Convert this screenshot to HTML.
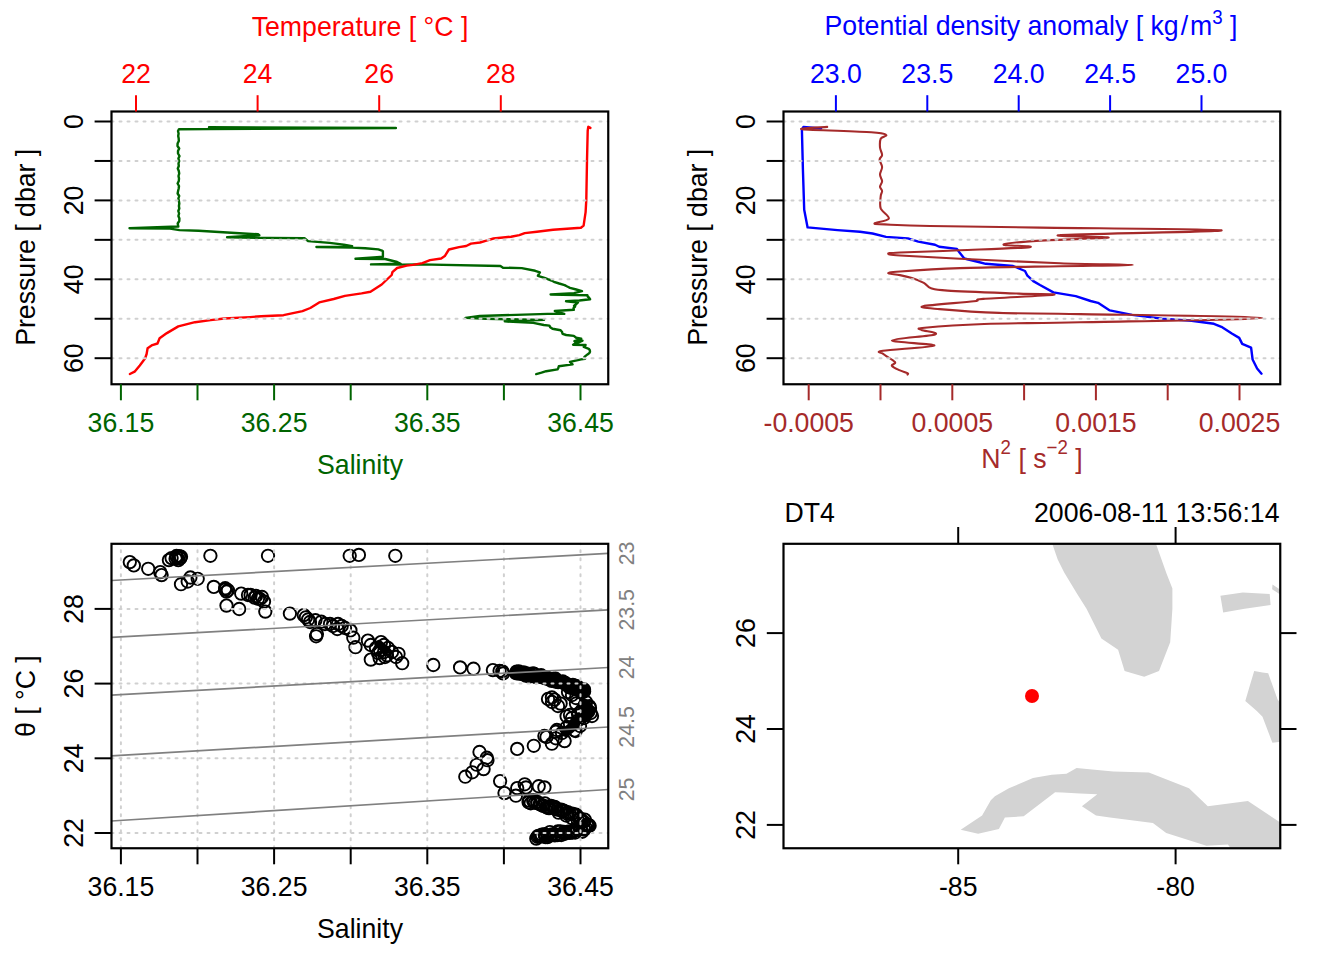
<!DOCTYPE html>
<html><head><meta charset="utf-8"><style>
html,body{margin:0;padding:0;background:#fff;}
svg{display:block;}
text{font-family:"Liberation Sans", sans-serif;}
</style></head><body>
<svg width="1344" height="960" viewBox="0 0 1344 960">
<rect width="1344" height="960" fill="#fff"/>
<polyline points="209.0,127.3 395.9,128.0 209.0,129.0 179.0,129.2 178.0,131.0 178.6,133.5 178.2,136.0 178.7,138.5 178.8,141.0 177.6,143.5 177.5,146.0 179.2,148.5 178.0,151.0 178.0,153.5 179.5,156.0 178.4,158.5 179.2,161.0 178.5,163.5 178.8,166.0 177.8,168.5 178.8,171.0 179.2,173.5 178.5,176.0 179.0,178.5 178.8,181.0 177.6,183.5 179.0,186.0 178.7,188.5 178.1,191.0 177.6,193.5 179.2,196.0 178.4,198.5 178.9,201.0 179.3,203.5 178.9,206.0 179.3,208.5 178.3,211.0 179.1,213.5 178.4,216.0 179.4,218.5 179.3,221.0 177.7,223.5 178.3,226.5 171.2,226.8 129.5,228.3 170.0,228.6 179.5,230.1 198.6,230.7 227.1,232.5 258.1,234.3 259.3,235.2 227.1,237.3 270.0,237.9 304.5,238.3 308.1,241.1 329.5,242.9 343.8,244.6 352.1,246.2 316.4,247.0 352.0,247.6 365.2,248.2 378.3,249.4 381.9,250.6 382.9,251.3 382.9,256.7 377.0,257.1 355.5,258.8 385.2,259.0 397.1,262.0 400.7,263.8 371.0,264.4 401.9,264.6 420.0,264.4 500.4,266.0 503.0,267.7 521.8,268.1 535.2,270.8 539.9,272.4 538.8,274.1 537.9,275.8 544.5,277.8 547.7,279.1 551.5,280.5 553.9,281.8 559.2,283.5 564.6,285.1 567.3,286.5 570.0,287.8 576.2,289.5 582.0,291.2 574.0,293.2 550.6,294.5 587.4,295.2 587.7,296.5 589.2,297.9 590.1,299.2 579.4,300.5 566.0,301.2 578.0,302.5 576.2,304.2 574.0,305.9 575.0,305.0 575.1,306.6 573.5,308.2 573.8,309.8 554.8,311.0 559.2,312.4 564.3,313.9 547.6,313.9 479.8,316.0 465.5,317.9 485.7,318.7 544.0,319.9 504.8,321.4 533.3,322.9 543.8,325.0 549.4,325.6 550.2,327.2 552.5,328.8 560.6,330.3 562.1,332.0 562.5,333.8 566.2,335.0 573.8,335.9 576.2,337.8 581.2,338.8 574.4,341.2 582.5,340.6 579.7,342.0 575.4,343.3 573.1,344.7 585.6,345.0 583.8,346.9 588.8,348.8 589.8,350.2 590.0,351.7 589.4,353.1 587.5,354.4 584.4,356.9 585.0,358.8 581.2,359.4 570.0,361.9 572.5,364.4 558.8,366.2 558.4,367.8 557.5,369.4 546.2,371.2 541.5,372.7 536.2,374.1" fill="none" stroke="#006400" stroke-width="2.4" stroke-linejoin="round" stroke-linecap="round" />
<polyline points="590.4,127.9 588.3,126.8 587.7,130.8 587.0,160.6 586.3,199.9 585.6,212.1 583.6,225.6 580.9,227.7 553.1,229.7 536.9,231.7 524.7,233.1 519.3,235.1 511.1,236.7 493.5,238.5 486.4,240.6 480.0,242.5 471.0,243.6 466.2,246.0 459.0,247.1 448.9,249.5 444.8,256.1 441.2,258.5 430.0,260.1 422.4,263.1 412.9,264.9 406.7,265.6 397.1,268.0 392.4,272.1 391.7,275.0 381.7,284.5 370.5,291.8 361.6,293.4 344.9,295.9 333.7,299.0 319.2,302.4 310.3,308.0 302.5,311.1 283.5,315.2 261.2,316.3 250.0,317.1 224.2,318.5 210.6,320.1 195.0,322.2 178.3,326.4 166.9,333.1 159.6,338.3 157.5,343.5 152.3,345.1 147.6,348.2 146.6,354.0 145.0,358.6 139.8,365.4 134.6,371.7 129.9,374.0" fill="none" stroke="#ff0000" stroke-width="2.4" stroke-linejoin="round" stroke-linecap="round" />
<line x1="111.5" y1="121.5" x2="608.25" y2="121.5" stroke="#d0d0d0" stroke-width="2.0" stroke-dasharray="2 6" stroke-linecap="round"/>
<line x1="111.5" y1="160.95" x2="608.25" y2="160.95" stroke="#d0d0d0" stroke-width="2.0" stroke-dasharray="2 6" stroke-linecap="round"/>
<line x1="111.5" y1="200.39999999999998" x2="608.25" y2="200.39999999999998" stroke="#d0d0d0" stroke-width="2.0" stroke-dasharray="2 6" stroke-linecap="round"/>
<line x1="111.5" y1="239.85" x2="608.25" y2="239.85" stroke="#d0d0d0" stroke-width="2.0" stroke-dasharray="2 6" stroke-linecap="round"/>
<line x1="111.5" y1="279.29999999999995" x2="608.25" y2="279.29999999999995" stroke="#d0d0d0" stroke-width="2.0" stroke-dasharray="2 6" stroke-linecap="round"/>
<line x1="111.5" y1="318.75" x2="608.25" y2="318.75" stroke="#d0d0d0" stroke-width="2.0" stroke-dasharray="2 6" stroke-linecap="round"/>
<line x1="111.5" y1="358.2" x2="608.25" y2="358.2" stroke="#d0d0d0" stroke-width="2.0" stroke-dasharray="2 6" stroke-linecap="round"/>
<rect x="111.5" y="111.5" width="496.75" height="272.75" fill="none" stroke="#000" stroke-width="2.2"/>
<line x1="94.6" y1="121.5" x2="111.5" y2="121.5" stroke="#000" stroke-width="2.0"/>
<line x1="94.6" y1="160.95" x2="111.5" y2="160.95" stroke="#000" stroke-width="2.0"/>
<line x1="94.6" y1="200.39999999999998" x2="111.5" y2="200.39999999999998" stroke="#000" stroke-width="2.0"/>
<line x1="94.6" y1="239.85" x2="111.5" y2="239.85" stroke="#000" stroke-width="2.0"/>
<line x1="94.6" y1="279.29999999999995" x2="111.5" y2="279.29999999999995" stroke="#000" stroke-width="2.0"/>
<line x1="94.6" y1="318.75" x2="111.5" y2="318.75" stroke="#000" stroke-width="2.0"/>
<line x1="94.6" y1="358.2" x2="111.5" y2="358.2" stroke="#000" stroke-width="2.0"/>
<text x="0" y="0" fill="#000" font-size="26.67" text-anchor="middle" transform="translate(82.5 121.5) rotate(-90) scale(1 1.05)" >0</text>
<text x="0" y="0" fill="#000" font-size="26.67" text-anchor="middle" transform="translate(82.5 200.39999999999998) rotate(-90) scale(1 1.05)" >20</text>
<text x="0" y="0" fill="#000" font-size="26.67" text-anchor="middle" transform="translate(82.5 279.29999999999995) rotate(-90) scale(1 1.05)" >40</text>
<text x="0" y="0" fill="#000" font-size="26.67" text-anchor="middle" transform="translate(82.5 358.2) rotate(-90) scale(1 1.05)" >60</text>
<text x="0" y="0" fill="#000" font-size="26.67" text-anchor="middle" transform="translate(35.2 247.3) rotate(-90) scale(1 1.05)" >Pressure [ dbar ]</text>
<line x1="120.9" y1="384.25" x2="120.9" y2="400.3" stroke="#006400" stroke-width="2.0"/>
<line x1="197.49999999999565" y1="384.25" x2="197.49999999999565" y2="400.3" stroke="#006400" stroke-width="2.0"/>
<line x1="274.1000000000022" y1="384.25" x2="274.1000000000022" y2="400.3" stroke="#006400" stroke-width="2.0"/>
<line x1="350.6999999999978" y1="384.25" x2="350.6999999999978" y2="400.3" stroke="#006400" stroke-width="2.0"/>
<line x1="427.3000000000044" y1="384.25" x2="427.3000000000044" y2="400.3" stroke="#006400" stroke-width="2.0"/>
<line x1="503.9" y1="384.25" x2="503.9" y2="400.3" stroke="#006400" stroke-width="2.0"/>
<line x1="580.4999999999956" y1="384.25" x2="580.4999999999956" y2="400.3" stroke="#006400" stroke-width="2.0"/>
<text x="0" y="0" fill="#006400" font-size="26.67" text-anchor="middle" transform="translate(120.9 432.0) scale(1 1.05)" >36.15</text>
<text x="0" y="0" fill="#006400" font-size="26.67" text-anchor="middle" transform="translate(274.1000000000022 432.0) scale(1 1.05)" >36.25</text>
<text x="0" y="0" fill="#006400" font-size="26.67" text-anchor="middle" transform="translate(427.3000000000044 432.0) scale(1 1.05)" >36.35</text>
<text x="0" y="0" fill="#006400" font-size="26.67" text-anchor="middle" transform="translate(580.5000000000065 432.0) scale(1 1.05)" >36.45</text>
<text x="0" y="0" fill="#006400" font-size="26.67" text-anchor="middle" transform="translate(360 473.6) scale(1 1.05)" >Salinity</text>
<line x1="136.0" y1="95.2" x2="136.0" y2="111.5" stroke="#ff0000" stroke-width="2.0"/>
<text x="0" y="0" fill="#ff0000" font-size="26.67" text-anchor="middle" transform="translate(136.0 82.9) scale(1 1.05)" >22</text>
<line x1="257.6" y1="95.2" x2="257.6" y2="111.5" stroke="#ff0000" stroke-width="2.0"/>
<text x="0" y="0" fill="#ff0000" font-size="26.67" text-anchor="middle" transform="translate(257.6 82.9) scale(1 1.05)" >24</text>
<line x1="379.2" y1="95.2" x2="379.2" y2="111.5" stroke="#ff0000" stroke-width="2.0"/>
<text x="0" y="0" fill="#ff0000" font-size="26.67" text-anchor="middle" transform="translate(379.2 82.9) scale(1 1.05)" >26</text>
<line x1="500.79999999999995" y1="95.2" x2="500.79999999999995" y2="111.5" stroke="#ff0000" stroke-width="2.0"/>
<text x="0" y="0" fill="#ff0000" font-size="26.67" text-anchor="middle" transform="translate(500.79999999999995 82.9) scale(1 1.05)" >28</text>
<text x="0" y="0" fill="#ff0000" font-size="26.67" text-anchor="middle" transform="translate(360 35.5) scale(1 1.05)" >Temperature [ °C ]</text>
<polyline points="821.1,128.5 803.5,126.9 801.9,129.9 802.9,169.2 804.2,209.8 807.6,227.4 837.4,230.1 860.0,231.7 872.5,233.5 886.0,236.9 907.9,238.4 918.3,241.6 935.0,244.7 939.2,246.8 956.9,248.9 959.5,252.5 964.3,258.5 978.6,262.0 985.7,263.8 1013.1,266.0 1025.0,271.0 1027.4,275.7 1033.3,281.1 1040.0,285.0 1053.4,292.4 1075.7,296.1 1090.6,301.0 1098.0,302.8 1109.8,310.4 1132.1,314.9 1161.8,318.6 1191.6,320.8 1213.9,323.8 1221.4,326.8 1231.8,333.5 1239.2,337.9 1242.2,343.9 1251.1,347.6 1252.6,359.5 1257.1,368.5 1261.5,373.7" fill="none" stroke="#0000ff" stroke-width="2.4" stroke-linejoin="round" stroke-linecap="round" />
<path d="M827.2,126.9 C823.0,127.3 794.9,128.3 802.2,129.2 C809.5,130.1 857.2,131.3 871.2,132.3 C885.2,133.3 884.5,133.9 886.1,135.0 C887.7,136.1 881.7,136.6 880.7,138.7 C879.7,140.8 879.8,144.8 880.0,147.5 C880.2,150.2 882.2,153.0 882.1,155.0 C882.0,157.0 879.6,157.7 879.6,159.7 C879.6,161.7 882.0,164.5 882.1,167.0 C882.2,169.5 880.0,172.2 880.0,174.6 C880.0,177.0 882.1,179.3 882.1,181.3 C882.1,183.3 880.0,185.2 880.0,186.8 C880.0,188.4 882.0,189.4 882.1,191.0 C882.2,192.6 880.9,193.3 880.7,196.2 C880.5,199.1 879.4,204.7 880.7,208.4 C882.1,212.1 889.8,216.1 888.8,218.6 C887.8,221.1 875.3,222.3 874.6,223.3 C873.9,224.3 875.6,224.0 884.8,224.4 C894.0,224.8 904.1,225.5 930.0,226.0 C955.9,226.5 991.4,226.9 1040.0,227.6 C1088.6,228.3 1218.0,229.1 1221.5,230.3 C1225.0,231.6 1079.6,233.9 1060.8,235.1 C1042.0,236.3 1112.0,236.7 1108.5,237.6 C1105.0,238.5 1057.5,239.4 1040.0,240.6 C1022.5,241.8 1005.3,243.4 1003.6,244.5 C1001.9,245.6 1037.1,246.1 1029.8,247.1 C1022.5,248.1 981.6,249.4 960.0,250.3 C938.4,251.2 912.0,251.9 900.0,252.5 C888.0,253.1 888.1,253.2 888.1,253.8 C888.1,254.2 888.0,254.7 900.0,255.5 C912.0,256.3 933.3,257.5 960.0,258.8 C986.7,260.0 1031.2,262.2 1060.0,263.2 C1088.8,264.2 1133.0,264.4 1133.0,264.9 C1133.0,265.4 1088.8,265.7 1060.0,266.2 C1031.2,266.7 986.7,267.2 960.0,268.1 C933.3,269.0 912.0,270.6 900.0,271.5 C888.0,272.4 888.1,272.7 888.1,273.3 C888.1,273.9 896.0,274.3 900.0,275.1 C904.0,275.9 907.9,276.8 911.9,278.1 C915.9,279.4 920.6,281.2 923.8,282.9 C927.0,284.6 927.0,286.9 931.0,288.2 C935.0,289.5 932.9,289.7 947.6,290.6 C962.3,291.5 1001.3,292.9 1019.0,293.6 C1036.7,294.3 1059.5,293.9 1053.6,294.8 C1047.6,295.7 996.6,297.8 983.3,298.9 C970.0,300.0 983.8,300.1 973.8,301.3 C963.8,302.5 928.9,304.9 923.2,306.2 C917.5,307.5 926.9,308.0 939.5,309.1 C952.1,310.2 975.6,312.1 999.0,312.9 C1022.4,313.7 1036.1,313.3 1080.0,314.1 C1123.9,314.9 1262.3,316.5 1262.3,317.9 C1262.3,319.3 1126.3,321.3 1080.0,322.3 C1033.7,323.3 1010.1,323.1 984.2,324.0 C958.3,324.9 935.0,326.7 924.6,327.7 C914.2,328.7 920.0,328.9 921.7,330.0 C923.5,331.1 940.1,332.7 935.1,334.4 C930.1,336.1 892.0,338.5 891.9,340.4 C891.8,342.3 935.8,343.9 934.3,345.6 C932.8,347.3 891.5,349.4 883.0,350.8 C874.5,352.2 881.0,351.9 883.0,353.8 C885.0,355.7 893.4,360.0 894.9,362.0 C896.4,364.0 891.2,364.3 891.9,365.7 C892.6,367.1 896.7,368.9 899.3,370.1 C901.9,371.3 906.1,372.4 907.5,373.1 C908.9,373.9 907.5,374.4 907.5,374.6" fill="none" stroke="#a52a2a" stroke-width="2.1" stroke-linejoin="round" stroke-linecap="round"/>
<line x1="783.5" y1="121.5" x2="1280.25" y2="121.5" stroke="#d0d0d0" stroke-width="2.0" stroke-dasharray="2 6" stroke-linecap="round"/>
<line x1="783.5" y1="160.95" x2="1280.25" y2="160.95" stroke="#d0d0d0" stroke-width="2.0" stroke-dasharray="2 6" stroke-linecap="round"/>
<line x1="783.5" y1="200.39999999999998" x2="1280.25" y2="200.39999999999998" stroke="#d0d0d0" stroke-width="2.0" stroke-dasharray="2 6" stroke-linecap="round"/>
<line x1="783.5" y1="239.85" x2="1280.25" y2="239.85" stroke="#d0d0d0" stroke-width="2.0" stroke-dasharray="2 6" stroke-linecap="round"/>
<line x1="783.5" y1="279.29999999999995" x2="1280.25" y2="279.29999999999995" stroke="#d0d0d0" stroke-width="2.0" stroke-dasharray="2 6" stroke-linecap="round"/>
<line x1="783.5" y1="318.75" x2="1280.25" y2="318.75" stroke="#d0d0d0" stroke-width="2.0" stroke-dasharray="2 6" stroke-linecap="round"/>
<line x1="783.5" y1="358.2" x2="1280.25" y2="358.2" stroke="#d0d0d0" stroke-width="2.0" stroke-dasharray="2 6" stroke-linecap="round"/>
<rect x="783.5" y="111.5" width="496.75" height="272.75" fill="none" stroke="#000" stroke-width="2.2"/>
<line x1="766.6" y1="121.5" x2="783.5" y2="121.5" stroke="#000" stroke-width="2.0"/>
<line x1="766.6" y1="160.95" x2="783.5" y2="160.95" stroke="#000" stroke-width="2.0"/>
<line x1="766.6" y1="200.39999999999998" x2="783.5" y2="200.39999999999998" stroke="#000" stroke-width="2.0"/>
<line x1="766.6" y1="239.85" x2="783.5" y2="239.85" stroke="#000" stroke-width="2.0"/>
<line x1="766.6" y1="279.29999999999995" x2="783.5" y2="279.29999999999995" stroke="#000" stroke-width="2.0"/>
<line x1="766.6" y1="318.75" x2="783.5" y2="318.75" stroke="#000" stroke-width="2.0"/>
<line x1="766.6" y1="358.2" x2="783.5" y2="358.2" stroke="#000" stroke-width="2.0"/>
<text x="0" y="0" fill="#000" font-size="26.67" text-anchor="middle" transform="translate(754.5 121.5) rotate(-90) scale(1 1.05)" >0</text>
<text x="0" y="0" fill="#000" font-size="26.67" text-anchor="middle" transform="translate(754.5 200.39999999999998) rotate(-90) scale(1 1.05)" >20</text>
<text x="0" y="0" fill="#000" font-size="26.67" text-anchor="middle" transform="translate(754.5 279.29999999999995) rotate(-90) scale(1 1.05)" >40</text>
<text x="0" y="0" fill="#000" font-size="26.67" text-anchor="middle" transform="translate(754.5 358.2) rotate(-90) scale(1 1.05)" >60</text>
<text x="0" y="0" fill="#000" font-size="26.67" text-anchor="middle" transform="translate(707.2 247.3) rotate(-90) scale(1 1.05)" >Pressure [ dbar ]</text>
<line x1="808.7" y1="384.25" x2="808.7" y2="400.3" stroke="#a52a2a" stroke-width="2.0"/>
<line x1="880.5" y1="384.25" x2="880.5" y2="400.3" stroke="#a52a2a" stroke-width="2.0"/>
<line x1="952.3000000000001" y1="384.25" x2="952.3000000000001" y2="400.3" stroke="#a52a2a" stroke-width="2.0"/>
<line x1="1024.1" y1="384.25" x2="1024.1" y2="400.3" stroke="#a52a2a" stroke-width="2.0"/>
<line x1="1095.9" y1="384.25" x2="1095.9" y2="400.3" stroke="#a52a2a" stroke-width="2.0"/>
<line x1="1167.7" y1="384.25" x2="1167.7" y2="400.3" stroke="#a52a2a" stroke-width="2.0"/>
<line x1="1239.5" y1="384.25" x2="1239.5" y2="400.3" stroke="#a52a2a" stroke-width="2.0"/>
<text x="0" y="0" fill="#a52a2a" font-size="26.67" text-anchor="middle" transform="translate(808.7 432.0) scale(1 1.05)" >-0.0005</text>
<text x="0" y="0" fill="#a52a2a" font-size="26.67" text-anchor="middle" transform="translate(952.3000000000001 432.0) scale(1 1.05)" >0.0005</text>
<text x="0" y="0" fill="#a52a2a" font-size="26.67" text-anchor="middle" transform="translate(1095.9 432.0) scale(1 1.05)" >0.0015</text>
<text x="0" y="0" fill="#a52a2a" font-size="26.67" text-anchor="middle" transform="translate(1239.5 432.0) scale(1 1.05)" >0.0025</text>
<text x="0" y="0" transform="translate(1032 467.8) scale(1 1.05)" fill="#a52a2a" font-size="26.67" text-anchor="middle">N<tspan font-size="18.7" dy="-13">2</tspan><tspan dy="13"> [ s</tspan><tspan font-size="18.7" dy="-13">−2</tspan><tspan dy="13"> ]</tspan></text>
<line x1="835.9" y1="95.2" x2="835.9" y2="111.5" stroke="#0000ff" stroke-width="2.0"/>
<text x="0" y="0" fill="#0000ff" font-size="26.67" text-anchor="middle" transform="translate(835.9 82.9) scale(1 1.05)" >23.0</text>
<line x1="927.3" y1="95.2" x2="927.3" y2="111.5" stroke="#0000ff" stroke-width="2.0"/>
<text x="0" y="0" fill="#0000ff" font-size="26.67" text-anchor="middle" transform="translate(927.3 82.9) scale(1 1.05)" >23.5</text>
<line x1="1018.7" y1="95.2" x2="1018.7" y2="111.5" stroke="#0000ff" stroke-width="2.0"/>
<text x="0" y="0" fill="#0000ff" font-size="26.67" text-anchor="middle" transform="translate(1018.7 82.9) scale(1 1.05)" >24.0</text>
<line x1="1110.1" y1="95.2" x2="1110.1" y2="111.5" stroke="#0000ff" stroke-width="2.0"/>
<text x="0" y="0" fill="#0000ff" font-size="26.67" text-anchor="middle" transform="translate(1110.1 82.9) scale(1 1.05)" >24.5</text>
<line x1="1201.5" y1="95.2" x2="1201.5" y2="111.5" stroke="#0000ff" stroke-width="2.0"/>
<text x="0" y="0" fill="#0000ff" font-size="26.67" text-anchor="middle" transform="translate(1201.5 82.9) scale(1 1.05)" >25.0</text>
<text x="0" y="0" transform="translate(1031 35.4) scale(1 1.05)" fill="#0000ff" font-size="26.67" text-anchor="middle">Potential density anomaly [ kg<tspan dx="2">/</tspan><tspan dx="2">m</tspan><tspan font-size="18.7" dy="-11">3</tspan><tspan dy="11"> ]</tspan></text>
<polyline points="515.0,673.5 530.0,675.5 550.0,679.5 565.0,683.5 578.0,688.0 584.0,690.5" fill="none" stroke="#000" stroke-width="12.5" stroke-linejoin="round" stroke-linecap="round" />
<polyline points="568.0,689.0 583.0,694.0" fill="none" stroke="#000" stroke-width="10" stroke-linejoin="round" stroke-linecap="round" />
<polyline points="584.0,705.0 589.0,711.0 585.0,716.0" fill="none" stroke="#000" stroke-width="13" stroke-linejoin="round" stroke-linecap="round" />
<polyline points="580.0,717.0 572.0,727.0 566.0,732.0" fill="none" stroke="#000" stroke-width="10" stroke-linejoin="round" stroke-linecap="round" />
<polyline points="379.0,644.0 386.0,650.0" fill="none" stroke="#000" stroke-width="8" stroke-linejoin="round" stroke-linecap="round" />
<g fill="none" stroke="#000" stroke-width="1.9">
<circle cx="129.8" cy="562.1" r="6.2"/>
<circle cx="133.8" cy="565.4" r="6.2"/>
<circle cx="148.2" cy="568.8" r="6.2"/>
<circle cx="160.2" cy="572.1" r="6.2"/>
<circle cx="161.6" cy="575.1" r="6.2"/>
<circle cx="168.9" cy="560.1" r="6.2"/>
<circle cx="171.6" cy="558.1" r="6.2"/>
<circle cx="175.6" cy="558.7" r="6.2"/>
<circle cx="177.0" cy="557.1" r="6.2"/>
<circle cx="179.0" cy="556.1" r="6.2"/>
<circle cx="180.3" cy="558.1" r="6.2"/>
<circle cx="181.0" cy="556.7" r="6.2"/>
<circle cx="178.3" cy="560.1" r="6.2"/>
<circle cx="176.5" cy="556.0" r="6.2"/>
<circle cx="210.4" cy="555.8" r="6.2"/>
<circle cx="268.0" cy="555.8" r="6.2"/>
<circle cx="181.0" cy="584.2" r="6.2"/>
<circle cx="187.7" cy="581.5" r="6.2"/>
<circle cx="190.4" cy="577.5" r="6.2"/>
<circle cx="197.7" cy="578.8" r="6.2"/>
<circle cx="213.8" cy="586.9" r="6.2"/>
<circle cx="225.2" cy="589.6" r="6.2"/>
<circle cx="226.5" cy="591.6" r="6.2"/>
<circle cx="227.9" cy="590.2" r="6.2"/>
<circle cx="225.2" cy="588.2" r="6.2"/>
<circle cx="226.5" cy="605.6" r="6.2"/>
<circle cx="239.2" cy="609.0" r="6.2"/>
<circle cx="241.2" cy="593.6" r="6.2"/>
<circle cx="250.6" cy="594.9" r="6.2"/>
<circle cx="254.6" cy="597.6" r="6.2"/>
<circle cx="260.0" cy="599.0" r="6.2"/>
<circle cx="256.0" cy="596.0" r="6.2"/>
<circle cx="258.0" cy="598.5" r="6.2"/>
<circle cx="262.0" cy="597.0" r="6.2"/>
<circle cx="248.0" cy="595.0" r="6.2"/>
<circle cx="264.0" cy="601.6" r="6.2"/>
<circle cx="265.3" cy="611.6" r="6.2"/>
<circle cx="349.7" cy="555.8" r="6.2"/>
<circle cx="358.9" cy="554.9" r="6.2"/>
<circle cx="395.3" cy="555.8" r="6.2"/>
<circle cx="289.9" cy="613.6" r="6.2"/>
<circle cx="303.8" cy="615.1" r="6.2"/>
<circle cx="305.9" cy="617.3" r="6.2"/>
<circle cx="308.1" cy="619.5" r="6.2"/>
<circle cx="315.4" cy="620.2" r="6.2"/>
<circle cx="321.3" cy="621.7" r="6.2"/>
<circle cx="330.0" cy="623.9" r="6.2"/>
<circle cx="332.9" cy="626.0" r="6.2"/>
<circle cx="337.3" cy="629.0" r="6.2"/>
<circle cx="316.9" cy="634.1" r="6.2"/>
<circle cx="316.1" cy="636.3" r="6.2"/>
<circle cx="341.7" cy="626.0" r="6.2"/>
<circle cx="350.4" cy="630.4" r="6.2"/>
<circle cx="353.3" cy="637.7" r="6.2"/>
<circle cx="355.5" cy="647.2" r="6.2"/>
<circle cx="367.9" cy="640.6" r="6.2"/>
<circle cx="370.8" cy="645.0" r="6.2"/>
<circle cx="381.0" cy="642.1" r="6.2"/>
<circle cx="384.0" cy="645.0" r="6.2"/>
<circle cx="370.8" cy="659.6" r="6.2"/>
<circle cx="379.6" cy="658.1" r="6.2"/>
<circle cx="386.9" cy="655.2" r="6.2"/>
<circle cx="398.5" cy="653.8" r="6.2"/>
<circle cx="402.2" cy="663.2" r="6.2"/>
<circle cx="376.0" cy="648.0" r="6.2"/>
<circle cx="380.0" cy="650.0" r="6.2"/>
<circle cx="384.0" cy="652.0" r="6.2"/>
<circle cx="388.0" cy="648.0" r="6.2"/>
<circle cx="378.0" cy="653.0" r="6.2"/>
<circle cx="392.0" cy="652.0" r="6.2"/>
<circle cx="396.0" cy="657.0" r="6.2"/>
<circle cx="385.0" cy="657.0" r="6.2"/>
<circle cx="310.0" cy="622.0" r="6.2"/>
<circle cx="325.0" cy="624.0" r="6.2"/>
<circle cx="345.0" cy="628.0" r="6.2"/>
<circle cx="338.0" cy="624.0" r="6.2"/>
<circle cx="433.3" cy="665.0" r="6.2"/>
<circle cx="460.1" cy="667.4" r="6.2"/>
<circle cx="473.5" cy="668.7" r="6.2"/>
<circle cx="492.9" cy="670.1" r="6.2"/>
<circle cx="499.6" cy="670.8" r="6.2"/>
<circle cx="502.3" cy="671.4" r="6.2"/>
<circle cx="503.0" cy="673.4" r="6.2"/>
<circle cx="517.0" cy="673.4" r="6.2"/>
<circle cx="521.1" cy="672.8" r="6.2"/>
<circle cx="584.0" cy="689.5" r="6.2"/>
<circle cx="551.9" cy="697.5" r="6.2"/>
<circle cx="554.5" cy="699.6" r="6.2"/>
<circle cx="560.6" cy="703.6" r="6.2"/>
<circle cx="576.0" cy="703.6" r="6.2"/>
<circle cx="589.4" cy="706.2" r="6.2"/>
<circle cx="590.7" cy="713.0" r="6.2"/>
<circle cx="566.6" cy="716.3" r="6.2"/>
<circle cx="577.3" cy="721.0" r="6.2"/>
<circle cx="574.6" cy="730.4" r="6.2"/>
<circle cx="555.9" cy="731.7" r="6.2"/>
<circle cx="546.5" cy="737.0" r="6.2"/>
<circle cx="551.9" cy="743.7" r="6.2"/>
<circle cx="564.6" cy="741.1" r="6.2"/>
<circle cx="533.8" cy="745.8" r="6.2"/>
<circle cx="586.0" cy="702.0" r="6.2"/>
<circle cx="590.0" cy="708.0" r="6.2"/>
<circle cx="592.0" cy="716.0" r="6.2"/>
<circle cx="588.0" cy="712.0" r="6.2"/>
<circle cx="582.0" cy="710.0" r="6.2"/>
<circle cx="584.0" cy="718.0" r="6.2"/>
<circle cx="578.0" cy="714.0" r="6.2"/>
<circle cx="572.0" cy="718.0" r="6.2"/>
<circle cx="570.0" cy="724.0" r="6.2"/>
<circle cx="580.0" cy="726.0" r="6.2"/>
<circle cx="566.0" cy="728.0" r="6.2"/>
<circle cx="562.0" cy="733.0" r="6.2"/>
<circle cx="568.0" cy="692.0" r="6.2"/>
<circle cx="572.0" cy="695.0" r="6.2"/>
<circle cx="576.0" cy="698.0" r="6.2"/>
<circle cx="544.4" cy="736.0" r="6.2"/>
<circle cx="556.9" cy="730.0" r="6.2"/>
<circle cx="575.6" cy="731.0" r="6.2"/>
<circle cx="555.8" cy="738.3" r="6.2"/>
<circle cx="548.0" cy="699.0" r="6.2"/>
<circle cx="552.0" cy="702.0" r="6.2"/>
<circle cx="558.0" cy="706.0" r="6.2"/>
<circle cx="570.0" cy="715.0" r="6.2"/>
<circle cx="479.5" cy="752.0" r="6.2"/>
<circle cx="486.8" cy="757.7" r="6.2"/>
<circle cx="487.4" cy="760.2" r="6.2"/>
<circle cx="476.7" cy="764.7" r="6.2"/>
<circle cx="483.6" cy="769.1" r="6.2"/>
<circle cx="472.3" cy="772.3" r="6.2"/>
<circle cx="465.3" cy="776.7" r="6.2"/>
<circle cx="500.1" cy="781.1" r="6.2"/>
<circle cx="504.5" cy="793.1" r="6.2"/>
<circle cx="517.2" cy="748.9" r="6.2"/>
<circle cx="517.2" cy="788.1" r="6.2"/>
<circle cx="515.9" cy="795.7" r="6.2"/>
<circle cx="524.7" cy="784.3" r="6.2"/>
<circle cx="526.0" cy="787.4" r="6.2"/>
<circle cx="538.7" cy="786.2" r="6.2"/>
<circle cx="544.4" cy="787.4" r="6.2"/>
<circle cx="537.4" cy="836.8" r="6.2"/>
<circle cx="541.2" cy="836.1" r="6.2"/>
<circle cx="545.0" cy="835.5" r="6.2"/>
<circle cx="516.6" cy="671.6" r="6.2"/>
<circle cx="518.8" cy="671.5" r="6.2"/>
<circle cx="520.1" cy="672.9" r="6.2"/>
<circle cx="520.6" cy="673.7" r="6.2"/>
<circle cx="522.1" cy="673.6" r="6.2"/>
<circle cx="523.6" cy="672.4" r="6.2"/>
<circle cx="525.8" cy="675.6" r="6.2"/>
<circle cx="526.7" cy="673.4" r="6.2"/>
<circle cx="529.3" cy="676.5" r="6.2"/>
<circle cx="530.7" cy="674.5" r="6.2"/>
<circle cx="533.0" cy="673.3" r="6.2"/>
<circle cx="534.2" cy="674.5" r="6.2"/>
<circle cx="534.3" cy="674.0" r="6.2"/>
<circle cx="536.1" cy="677.1" r="6.2"/>
<circle cx="537.4" cy="676.5" r="6.2"/>
<circle cx="539.8" cy="676.0" r="6.2"/>
<circle cx="541.1" cy="675.2" r="6.2"/>
<circle cx="541.6" cy="676.1" r="6.2"/>
<circle cx="544.4" cy="677.3" r="6.2"/>
<circle cx="545.1" cy="678.3" r="6.2"/>
<circle cx="546.9" cy="677.5" r="6.2"/>
<circle cx="549.1" cy="679.4" r="6.2"/>
<circle cx="549.5" cy="679.3" r="6.2"/>
<circle cx="551.6" cy="680.9" r="6.2"/>
<circle cx="553.5" cy="679.0" r="6.2"/>
<circle cx="555.5" cy="678.7" r="6.2"/>
<circle cx="555.8" cy="681.6" r="6.2"/>
<circle cx="556.8" cy="681.0" r="6.2"/>
<circle cx="558.1" cy="682.1" r="6.2"/>
<circle cx="561.0" cy="682.1" r="6.2"/>
<circle cx="562.8" cy="681.5" r="6.2"/>
<circle cx="563.9" cy="683.0" r="6.2"/>
<circle cx="565.2" cy="682.8" r="6.2"/>
<circle cx="567.1" cy="685.3" r="6.2"/>
<circle cx="567.8" cy="684.8" r="6.2"/>
<circle cx="568.5" cy="685.5" r="6.2"/>
<circle cx="571.1" cy="687.2" r="6.2"/>
<circle cx="572.9" cy="684.9" r="6.2"/>
<circle cx="573.4" cy="687.0" r="6.2"/>
<circle cx="574.2" cy="686.7" r="6.2"/>
<circle cx="575.9" cy="685.9" r="6.2"/>
<circle cx="577.1" cy="689.1" r="6.2"/>
<circle cx="578.8" cy="687.5" r="6.2"/>
<circle cx="580.8" cy="690.5" r="6.2"/>
<circle cx="581.7" cy="689.3" r="6.2"/>
<circle cx="584.1" cy="691.5" r="6.2"/>
<circle cx="528.6" cy="802.3" r="6.2"/>
<circle cx="529.1" cy="800.5" r="6.2"/>
<circle cx="530.7" cy="803.3" r="6.2"/>
<circle cx="533.4" cy="800.1" r="6.2"/>
<circle cx="533.4" cy="800.9" r="6.2"/>
<circle cx="535.0" cy="802.6" r="6.2"/>
<circle cx="537.2" cy="801.9" r="6.2"/>
<circle cx="537.5" cy="803.2" r="6.2"/>
<circle cx="539.7" cy="804.3" r="6.2"/>
<circle cx="542.4" cy="805.5" r="6.2"/>
<circle cx="543.0" cy="805.6" r="6.2"/>
<circle cx="544.9" cy="803.3" r="6.2"/>
<circle cx="546.8" cy="807.4" r="6.2"/>
<circle cx="548.2" cy="808.0" r="6.2"/>
<circle cx="548.8" cy="806.5" r="6.2"/>
<circle cx="549.7" cy="808.2" r="6.2"/>
<circle cx="551.1" cy="805.8" r="6.2"/>
<circle cx="552.9" cy="806.9" r="6.2"/>
<circle cx="554.7" cy="806.9" r="6.2"/>
<circle cx="555.5" cy="807.9" r="6.2"/>
<circle cx="557.2" cy="809.6" r="6.2"/>
<circle cx="558.6" cy="812.7" r="6.2"/>
<circle cx="561.2" cy="809.6" r="6.2"/>
<circle cx="562.0" cy="811.2" r="6.2"/>
<circle cx="563.7" cy="810.6" r="6.2"/>
<circle cx="566.2" cy="815.5" r="6.2"/>
<circle cx="566.9" cy="813.5" r="6.2"/>
<circle cx="567.7" cy="812.2" r="6.2"/>
<circle cx="569.7" cy="813.6" r="6.2"/>
<circle cx="572.2" cy="813.6" r="6.2"/>
<circle cx="572.0" cy="818.1" r="6.2"/>
<circle cx="574.6" cy="814.7" r="6.2"/>
<circle cx="576.1" cy="814.6" r="6.2"/>
<circle cx="577.6" cy="820.1" r="6.2"/>
<circle cx="579.7" cy="819.3" r="6.2"/>
<circle cx="580.0" cy="818.3" r="6.2"/>
<circle cx="581.3" cy="821.0" r="6.2"/>
<circle cx="583.6" cy="821.7" r="6.2"/>
<circle cx="584.7" cy="819.6" r="6.2"/>
<circle cx="587.0" cy="824.6" r="6.2"/>
<circle cx="588.4" cy="824.9" r="6.2"/>
<circle cx="589.6" cy="825.7" r="6.2"/>
<circle cx="588.0" cy="826.3" r="6.2"/>
<circle cx="587.7" cy="825.6" r="6.2"/>
<circle cx="585.4" cy="827.2" r="6.2"/>
<circle cx="584.2" cy="829.6" r="6.2"/>
<circle cx="583.9" cy="828.7" r="6.2"/>
<circle cx="582.2" cy="831.8" r="6.2"/>
<circle cx="580.6" cy="829.0" r="6.2"/>
<circle cx="577.4" cy="828.6" r="6.2"/>
<circle cx="575.9" cy="828.8" r="6.2"/>
<circle cx="575.2" cy="832.5" r="6.2"/>
<circle cx="574.2" cy="830.6" r="6.2"/>
<circle cx="572.3" cy="832.5" r="6.2"/>
<circle cx="569.7" cy="832.1" r="6.2"/>
<circle cx="569.8" cy="832.9" r="6.2"/>
<circle cx="568.0" cy="831.6" r="6.2"/>
<circle cx="565.4" cy="833.4" r="6.2"/>
<circle cx="564.2" cy="833.8" r="6.2"/>
<circle cx="563.9" cy="832.0" r="6.2"/>
<circle cx="561.3" cy="835.0" r="6.2"/>
<circle cx="560.4" cy="831.4" r="6.2"/>
<circle cx="557.8" cy="831.5" r="6.2"/>
<circle cx="557.8" cy="835.0" r="6.2"/>
<circle cx="554.8" cy="835.4" r="6.2"/>
<circle cx="555.0" cy="834.8" r="6.2"/>
<circle cx="552.0" cy="834.5" r="6.2"/>
<circle cx="549.9" cy="832.1" r="6.2"/>
<circle cx="549.9" cy="835.5" r="6.2"/>
<circle cx="547.4" cy="837.2" r="6.2"/>
<circle cx="545.5" cy="837.1" r="6.2"/>
<circle cx="544.7" cy="834.1" r="6.2"/>
<circle cx="541.8" cy="834.7" r="6.2"/>
<circle cx="540.0" cy="836.4" r="6.2"/>
<circle cx="538.3" cy="835.8" r="6.2"/>
<circle cx="536.3" cy="838.6" r="6.2"/>
</g>
<line x1="111.5" y1="833.0" x2="608.25" y2="833.0" stroke="#d0d0d0" stroke-width="2.0" stroke-dasharray="2 6" stroke-linecap="round"/>
<line x1="111.5" y1="758.3" x2="608.25" y2="758.3" stroke="#d0d0d0" stroke-width="2.0" stroke-dasharray="2 6" stroke-linecap="round"/>
<line x1="111.5" y1="683.6" x2="608.25" y2="683.6" stroke="#d0d0d0" stroke-width="2.0" stroke-dasharray="2 6" stroke-linecap="round"/>
<line x1="111.5" y1="608.9" x2="608.25" y2="608.9" stroke="#d0d0d0" stroke-width="2.0" stroke-dasharray="2 6" stroke-linecap="round"/>
<line x1="120.9" y1="848.25" x2="120.9" y2="543.8" stroke="#d0d0d0" stroke-width="2.0" stroke-dasharray="2 6" stroke-linecap="round"/>
<line x1="197.49999999999565" y1="848.25" x2="197.49999999999565" y2="543.8" stroke="#d0d0d0" stroke-width="2.0" stroke-dasharray="2 6" stroke-linecap="round"/>
<line x1="274.1000000000022" y1="848.25" x2="274.1000000000022" y2="543.8" stroke="#d0d0d0" stroke-width="2.0" stroke-dasharray="2 6" stroke-linecap="round"/>
<line x1="350.6999999999978" y1="848.25" x2="350.6999999999978" y2="543.8" stroke="#d0d0d0" stroke-width="2.0" stroke-dasharray="2 6" stroke-linecap="round"/>
<line x1="427.3000000000044" y1="848.25" x2="427.3000000000044" y2="543.8" stroke="#d0d0d0" stroke-width="2.0" stroke-dasharray="2 6" stroke-linecap="round"/>
<line x1="503.9" y1="848.25" x2="503.9" y2="543.8" stroke="#d0d0d0" stroke-width="2.0" stroke-dasharray="2 6" stroke-linecap="round"/>
<line x1="580.4999999999956" y1="848.25" x2="580.4999999999956" y2="543.8" stroke="#d0d0d0" stroke-width="2.0" stroke-dasharray="2 6" stroke-linecap="round"/>
<line x1="111.5" y1="580.5" x2="608.25" y2="553.4" stroke="#808080" stroke-width="1.7"/>
<line x1="111.5" y1="637.4" x2="608.25" y2="609.8" stroke="#808080" stroke-width="1.7"/>
<line x1="111.5" y1="695.1" x2="608.25" y2="667.5" stroke="#808080" stroke-width="1.7"/>
<line x1="111.5" y1="755.8" x2="608.25" y2="727.0" stroke="#808080" stroke-width="1.7"/>
<line x1="111.5" y1="821.0" x2="608.25" y2="789.5" stroke="#808080" stroke-width="1.7"/>
<rect x="111.5" y="543.8" width="496.75" height="304.45000000000005" fill="none" stroke="#000" stroke-width="2.2"/>
<line x1="94.6" y1="833.0" x2="111.5" y2="833.0" stroke="#000" stroke-width="2.0"/>
<text x="0" y="0" fill="#000" font-size="26.67" text-anchor="middle" transform="translate(82.5 833.0) rotate(-90) scale(1 1.05)" >22</text>
<line x1="94.6" y1="758.3" x2="111.5" y2="758.3" stroke="#000" stroke-width="2.0"/>
<text x="0" y="0" fill="#000" font-size="26.67" text-anchor="middle" transform="translate(82.5 758.3) rotate(-90) scale(1 1.05)" >24</text>
<line x1="94.6" y1="683.6" x2="111.5" y2="683.6" stroke="#000" stroke-width="2.0"/>
<text x="0" y="0" fill="#000" font-size="26.67" text-anchor="middle" transform="translate(82.5 683.6) rotate(-90) scale(1 1.05)" >26</text>
<line x1="94.6" y1="608.9" x2="111.5" y2="608.9" stroke="#000" stroke-width="2.0"/>
<text x="0" y="0" fill="#000" font-size="26.67" text-anchor="middle" transform="translate(82.5 608.9) rotate(-90) scale(1 1.05)" >28</text>
<text x="0" y="0" fill="#000" font-size="26.67" text-anchor="middle" transform="translate(35.0 696.2) rotate(-90) scale(1 1.05)" >θ [ °C ]</text>
<line x1="120.9" y1="848.25" x2="120.9" y2="864.3" stroke="#000" stroke-width="2.0"/>
<line x1="197.49999999999565" y1="848.25" x2="197.49999999999565" y2="864.3" stroke="#000" stroke-width="2.0"/>
<line x1="274.1000000000022" y1="848.25" x2="274.1000000000022" y2="864.3" stroke="#000" stroke-width="2.0"/>
<line x1="350.6999999999978" y1="848.25" x2="350.6999999999978" y2="864.3" stroke="#000" stroke-width="2.0"/>
<line x1="427.3000000000044" y1="848.25" x2="427.3000000000044" y2="864.3" stroke="#000" stroke-width="2.0"/>
<line x1="503.9" y1="848.25" x2="503.9" y2="864.3" stroke="#000" stroke-width="2.0"/>
<line x1="580.4999999999956" y1="848.25" x2="580.4999999999956" y2="864.3" stroke="#000" stroke-width="2.0"/>
<text x="0" y="0" fill="#000" font-size="26.67" text-anchor="middle" transform="translate(120.9 896.0) scale(1 1.05)" >36.15</text>
<text x="0" y="0" fill="#000" font-size="26.67" text-anchor="middle" transform="translate(274.1000000000022 896.0) scale(1 1.05)" >36.25</text>
<text x="0" y="0" fill="#000" font-size="26.67" text-anchor="middle" transform="translate(427.3000000000044 896.0) scale(1 1.05)" >36.35</text>
<text x="0" y="0" fill="#000" font-size="26.67" text-anchor="middle" transform="translate(580.5000000000065 896.0) scale(1 1.05)" >36.45</text>
<text x="0" y="0" fill="#000" font-size="26.67" text-anchor="middle" transform="translate(360 937.6) scale(1 1.05)" >Salinity</text>
<text x="0" y="0" fill="#808080" font-size="21.3" text-anchor="middle" transform="translate(634 553.4) rotate(-90) scale(1 1.05)" >23</text>
<text x="0" y="0" fill="#808080" font-size="21.3" text-anchor="middle" transform="translate(634 609.8) rotate(-90) scale(1 1.05)" >23.5</text>
<text x="0" y="0" fill="#808080" font-size="21.3" text-anchor="middle" transform="translate(634 667.5) rotate(-90) scale(1 1.05)" >24</text>
<text x="0" y="0" fill="#808080" font-size="21.3" text-anchor="middle" transform="translate(634 727.0) rotate(-90) scale(1 1.05)" >24.5</text>
<text x="0" y="0" fill="#808080" font-size="21.3" text-anchor="middle" transform="translate(634 789.5) rotate(-90) scale(1 1.05)" >25</text>
<defs><clipPath id="c4"><rect x="783.5" y="543.8" width="496.75" height="304.45000000000005"/></clipPath></defs>
<g clip-path="url(#c4)">
<polygon points="1052.6,540.0 1052.6,544.7 1057.7,559.5 1064.2,572.6 1077.2,593.9 1086.5,608.8 1101.4,638.6 1118.1,649.7 1124.6,671.1 1144.2,676.7 1159.0,671.1 1170.2,642.3 1172.4,608.8 1172.4,588.4 1166.5,573.5 1156.3,544.7 1155.0,540.0" fill="#d3d3d3" stroke="none"/>
<polygon points="1220.4,595.8 1242.8,592.5 1269.7,593.9 1270.6,605.1 1244.6,608.8 1223.2,612.5" fill="#d3d3d3" stroke="none"/>
<polygon points="1272.5,584.6 1281.0,590.2 1281.0,594.9 1272.1,589.3" fill="#d3d3d3" stroke="none"/>
<polygon points="1254.2,670.9 1262.5,672.5 1268.2,673.3 1277.6,699.6 1281.0,703.8 1281.0,741.8 1272.4,742.8 1262.5,716.8 1256.8,711.0 1245.3,701.1 1250.0,685.0" fill="#d3d3d3" stroke="none"/>
<polygon points="960.7,829.7 982.1,815.6 990.8,800.2 994.9,796.2 1008.9,788.2 1033.0,778.1 1051.8,774.8 1066.5,773.8 1076.6,768.1 1092.0,769.4 1113.4,771.4 1148.8,772.5 1189.0,788.2 1207.8,806.2 1247.9,800.9 1281.0,823.0 1281.0,850.0 1231.9,850.0 1227.9,844.4 1206.4,845.8 1166.2,833.0 1152.9,823.0 1110.0,817.6 1096.0,815.6 1081.9,806.2 1097.3,794.2 1079.9,793.5 1062.5,792.6 1055.1,792.2 1023.7,816.3 1004.9,817.6 998.9,829.0 978.1,833.7" fill="#d3d3d3" stroke="none"/>
</g>
<circle cx="1032" cy="696" r="7" fill="#ff0000"/>
<rect x="783.5" y="543.8" width="496.75" height="304.45000000000005" fill="none" stroke="#000" stroke-width="2.2"/>
<line x1="958.2" y1="848.25" x2="958.2" y2="864.3" stroke="#000" stroke-width="2.0"/>
<line x1="958.2" y1="527.0" x2="958.2" y2="543.8" stroke="#000" stroke-width="2.0"/>
<text x="0" y="0" fill="#000" font-size="26.67" text-anchor="middle" transform="translate(958.2 896.0) scale(1 1.05)" >-85</text>
<line x1="1175.6" y1="848.25" x2="1175.6" y2="864.3" stroke="#000" stroke-width="2.0"/>
<line x1="1175.6" y1="527.0" x2="1175.6" y2="543.8" stroke="#000" stroke-width="2.0"/>
<text x="0" y="0" fill="#000" font-size="26.67" text-anchor="middle" transform="translate(1175.6 896.0) scale(1 1.05)" >-80</text>
<line x1="766.8" y1="824.9" x2="783.5" y2="824.9" stroke="#000" stroke-width="2.0"/>
<line x1="1280.25" y1="824.9" x2="1296.5" y2="824.9" stroke="#000" stroke-width="2.0"/>
<text x="0" y="0" fill="#000" font-size="26.67" text-anchor="middle" transform="translate(754.5 824.9) rotate(-90) scale(1 1.05)" >22</text>
<line x1="766.8" y1="729.0" x2="783.5" y2="729.0" stroke="#000" stroke-width="2.0"/>
<line x1="1280.25" y1="729.0" x2="1296.5" y2="729.0" stroke="#000" stroke-width="2.0"/>
<text x="0" y="0" fill="#000" font-size="26.67" text-anchor="middle" transform="translate(754.5 729.0) rotate(-90) scale(1 1.05)" >24</text>
<line x1="766.8" y1="633.1" x2="783.5" y2="633.1" stroke="#000" stroke-width="2.0"/>
<line x1="1280.25" y1="633.1" x2="1296.5" y2="633.1" stroke="#000" stroke-width="2.0"/>
<text x="0" y="0" fill="#000" font-size="26.67" text-anchor="middle" transform="translate(754.5 633.1) rotate(-90) scale(1 1.05)" >26</text>
<text x="0" y="0" fill="#000" font-size="26.67" text-anchor="start" transform="translate(784.5 521.5) scale(1 1.05)" >DT4</text>
<text x="0" y="0" fill="#000" font-size="26.67" text-anchor="end" transform="translate(1279.5 521.5) scale(1 1.05)" >2006-08-11 13:56:14</text>
</svg></body></html>
